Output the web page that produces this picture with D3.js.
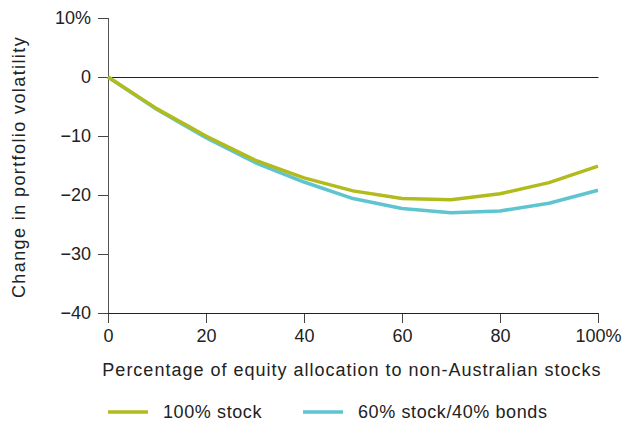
<!DOCTYPE html>
<html><head><meta charset="utf-8">
<script src="https://cdn.jsdelivr.net/npm/d3@7"></script>
<style>body{margin:0;background:#fff}svg{display:block}</style>
</head><body>
<script>
const xValues = [0,10,20,30,40,50,60,70,80,90,100];
const stock100 = [0,-5.4,-10.0,-14.1,-17.1,-19.3,-20.6,-20.8,-19.8,-17.9,-15.1];
const stock60bond40 = [0,-5.5,-10.3,-14.5,-17.8,-20.6,-22.3,-23.0,-22.7,-21.4,-19.2];
const yTicks = [10,0,-10,-20,-30,-40];
const xTicks = [0,20,40,60,80,100];
const seriesNames = ["100% stock","60% stock/40% bonds"];
const colors = ["#b2bb1c","#5ec5d0"];

const W=622,H=424;
const svg=d3.select("body").append("svg").attr("width",W).attr("height",H);
const font="'Liberation Sans', Arial, sans-serif";
const x=d3.scaleLinear().domain([0,100]).range([108,598]);
const y=d3.scaleLinear().domain([-40,10]).range([313,18]);

const ya=svg.append("g").attr("transform","translate(108,0)")
 .call(d3.axisLeft(y).tickValues(yTicks).tickSize(10).tickPadding(7)
   .tickFormat(d=>d===10?"10%":(d<0?"\u2212"+(-d):d)));
const xa=svg.append("g").attr("transform","translate(0,313)")
 .call(d3.axisBottom(x).tickValues(xTicks).tickSize(10).tickPadding(4)
   .tickFormat(d=>d===100?"100%":d));
[ya,xa].forEach(g=>{
 g.select(".domain").remove();
 g.selectAll("line").attr("stroke","#444");
 g.selectAll("text").attr("font-family",font).attr("font-size",18).attr("fill","#222");
});
xa.selectAll("text").attr("dy","0.85em");
svg.append("line").attr("x1",108.5).attr("x2",108.5).attr("y1",y(10)).attr("y2",y(-40)).attr("stroke","#555");
svg.append("line").attr("x1",108).attr("x2",598.5).attr("y1",y(-40)+0.5).attr("y2",y(-40)+0.5).attr("stroke","#222");
svg.append("line").attr("x1",108).attr("x2",598.5).attr("y1",y(0)+0.5).attr("y2",y(0)+0.5).attr("stroke","#222");

const line=d3.line().x((d,i)=>x(xValues[i])).y(d=>y(d));
[stock60bond40,stock100].forEach((s,k)=>{
 svg.append("path").datum(s).attr("d",line).attr("fill","none")
  .attr("stroke",k===0?colors[1]:colors[0]).attr("stroke-width",3.5).attr("stroke-linejoin","round");
});

svg.append("text").attr("transform","translate(25,167) rotate(-90)").attr("text-anchor","middle")
 .attr("font-family",font).attr("font-size",18).attr("letter-spacing",1.4).attr("fill","#222").text("Change in portfolio volatility");
svg.append("text").attr("x",352).attr("y",376).attr("text-anchor","middle")
 .attr("font-family",font).attr("font-size",18).attr("letter-spacing",1).attr("fill","#222").text("Percentage of equity allocation to non-Australian stocks");

const leg=[{x1:108,x2:148,tx:163},{x1:303,x2:343,tx:358}];
seriesNames.forEach((n,i)=>{
 svg.append("line").attr("x1",leg[i].x1).attr("x2",leg[i].x2).attr("y1",412).attr("y2",412)
  .attr("stroke",colors[i]).attr("stroke-width",3.5);
 svg.append("text").attr("x",leg[i].tx).attr("y",418).attr("font-family",font).attr("font-size",18)
  .attr("letter-spacing",0.6).attr("fill","#222").text(n);
});
</script>
</body></html>
